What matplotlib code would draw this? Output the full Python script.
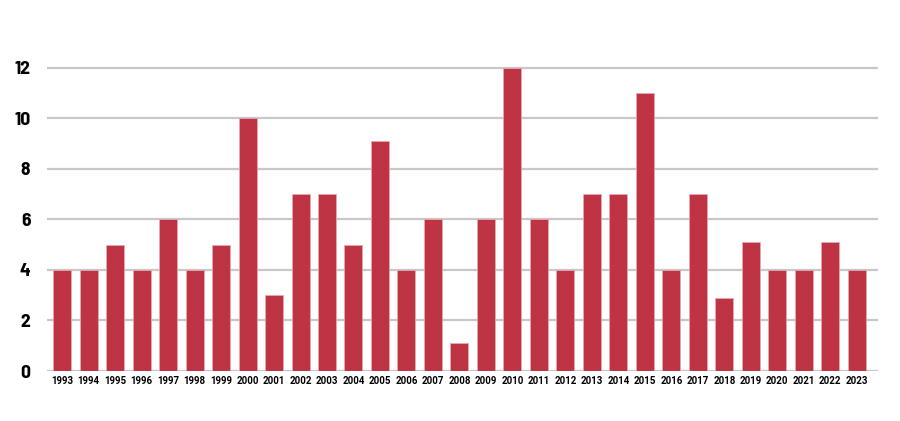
import matplotlib.pyplot as plt
from matplotlib import font_manager

years = list(range(1993, 2024))
counts = [4, 4, 5, 4, 6, 4, 5, 10, 3, 7, 7, 5, 9.1, 4, 6, 1.1, 6, 12, 6, 4,
          7, 7, 11, 4, 7, 2.9, 5.1, 4, 4, 5.1, 4]
y_ticks = [0, 2, 4, 6, 8, 10, 12]

names = {f.name for f in font_manager.fontManager.ttflist}


def pick(cands):
    for cand in cands:
        if cand in names:
            return cand
    return 'DejaVu Sans'


y_font = pick(['Barlow Semi Condensed', 'Barlow Condensed', 'Roboto Condensed',
               'Saira SemiCondensed', 'Sofia Sans Condensed'])
x_font = pick(['Roboto', 'Noto Sans'])


def main():
    fig = plt.figure(figsize=(9, 4.21), dpi=100)
    ax = fig.add_axes([47 / 900, 1 - 371 / 421, 831 / 900, (371 - 30) / 421])

    x = range(len(years))
    ax.bar(x, counts, width=0.68, color='#be3444', edgecolor='#e8a8b0',
           linewidth=0.6, zorder=3)

    ax.set_xlim(-0.57, len(years) - 0.2)
    ax.set_ylim(0, 13.5)
    ax.set_yticks(y_ticks)
    ax.set_yticklabels([str(t) for t in y_ticks], fontsize=14, fontweight='bold',
                       family=y_font)
    ax.set_xticks(list(x))
    ax.set_xticklabels([str(y) for y in years], fontsize=7, fontweight='bold',
                       family=x_font)
    ax.tick_params(axis='both', length=0)
    ax.tick_params(axis='y', pad=12)
    ax.tick_params(axis='x', pad=3.5)
    ax.grid(axis='y', color='#c8c8c8', linewidth=1.6, zorder=0)
    for s in ax.spines.values():
        s.set_visible(False)

    plt.savefig('out.png', dpi=100)


if __name__ == "__main__":
    main()
